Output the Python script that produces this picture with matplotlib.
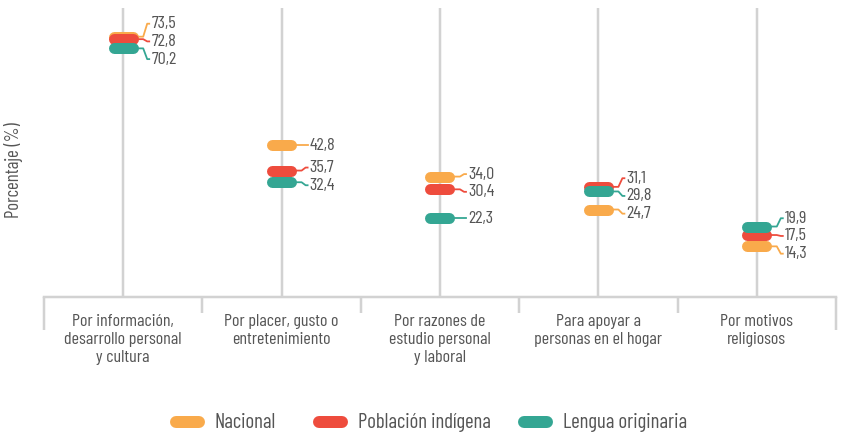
import matplotlib
matplotlib.use("Agg")
import matplotlib.pyplot as plt
from matplotlib.lines import Line2D
import matplotlib.transforms as mtransforms

plt.rcParams["font.family"] = ["Barlow Condensed", "Roboto Condensed", "DejaVu Sans"]

# ========= 数据 =========
categorias = [
    "Por información,\ndesarrollo personal\ny cultura",
    "Por placer, gusto o\nentretenimiento",
    "Por razones de\nestudio personal\ny laboral",
    "Para apoyar a\npersonas en el hogar",
    "Por motivos\nreligiosos",
]
series = ["Nacional", "Población indígena", "Lengua originaria"]
nacional = [73.5, 42.8, 34.0, 24.7, 14.3]
indigena = [72.8, 35.7, 30.4, 31.1, 17.5]
lengua = [70.2, 32.4, 22.3, 29.8, 19.9]
valores = [nacional, indigena, lengua]
colores = ["#F9AA4B", "#EE4C3D", "#34A693"]

GRIS = "#d2d2d2"
TEXTO = "#555555"

# ========= 画布 =========
W, H = 843, 434
fig = plt.figure(figsize=(W / 100, H / 100), dpi=100)
ax_l, ax_r, ax_b, ax_t = 44, 836, 297, 8
ax = fig.add_axes([ax_l / W, 1 - ax_b / H, (ax_r - ax_l) / W, (ax_b - ax_t) / H])

n = len(categorias)
YMAX = 81.6
ax.set_xlim(-0.5, n - 0.5)
ax.set_ylim(0, YMAX)
ax.axis("off")

px_x = n / (ax_r - ax_l)            # data units per pixel (x)
pt = 72 / 100                       # points per pixel

# vertical guide lines + baseline
for i in range(n):
    ax.plot([i, i], [0, YMAX], color=GRIS, lw=2.5 * pt, zorder=1, solid_capstyle="butt")
ax.plot([-0.5, n - 0.5], [0, 0], color=GRIS, lw=2.5 * pt, zorder=1, clip_on=False)

# separators under the baseline
trans = mtransforms.blended_transform_factory(ax.transData, ax.transAxes)
ah = ax_b - ax_t
for k in range(n + 1):
    largo = 33 if k in (0, n) else 16
    ax.plot([k - 0.5, k - 0.5], [0, -largo / ah], color=GRIS, lw=2.5 * pt,
            transform=trans, clip_on=False, solid_capstyle="butt")

# category labels
for i, cat in enumerate(categorias):
    ax.text(i, -17 / ah, cat, transform=trans, ha="center", va="top",
            fontsize=13, color=TEXTO, linespacing=1.25)


# ========= 标签避让 =========
def colocar(vals, gap, tope):
    orden = sorted(range(len(vals)), key=lambda j: vals[j])
    grupos = [[j] for j in orden]
    cambiado = True
    while cambiado:
        cambiado = False
        pos = []
        for g in grupos:
            m = sum(vals[j] for j in g) / len(g)
            base = m - gap * (len(g) - 1) / 2
            top = base + gap * (len(g) - 1)
            if top > tope:
                base -= top - tope
            pos.append(base)
        for a in range(len(grupos) - 1):
            if pos[a] + gap * (len(grupos[a]) - 1) + gap > pos[a + 1]:
                grupos[a] = grupos[a] + grupos[a + 1]
                del grupos[a + 1]
                cambiado = True
                break
    res = {}
    for g, b in zip(grupos, pos):
        for k, j in enumerate(g):
            res[j] = b + gap * k
    return [res[j] for j in range(len(vals))]


half = 15  # half pill width in px
for i in range(n):
    vals = [s[i] for s in valores]
    ys = colocar(vals, 5.0, YMAX - 3.6)
    for s, (v, yl, c) in enumerate(zip(vals, ys, colores)):
        # pill
        ax.plot([i - (half - 5.5) * px_x, i + (half - 5.5) * px_x], [v, v], color=c,
                lw=11 * pt, solid_capstyle="round", zorder=3 + s)
        # leader
        x0 = i + half * px_x
        ax.plot([x0, x0 + 5 * px_x, x0 + 9 * px_x, x0 + 11 * px_x], [v, v, yl, yl],
                color=c, lw=1.8 * pt, zorder=2)
        ax.text(x0 + 13 * px_x, yl, f"{v:.1f}".replace(".", ","), ha="left", va="center",
                fontsize=13, color=TEXTO)

fig.text(14 / W, 1 - 170 / H, "Porcentaje (%)", rotation=90, ha="center", va="center",
         fontsize=13.5, color=TEXTO)

# ========= 图例 (manual) =========
ley_x = [170, 313, 518]   # left edge of each legend pill, px
ley_y = 1 - 422 / H
for xl, nombre, c in zip(ley_x, series, colores):
    fig.add_artist(Line2D([(xl + 6) / W, (xl + 29) / W], [ley_y, ley_y], color=c,
                          lw=12 * pt, solid_capstyle="round", transform=fig.transFigure))
    fig.text((xl + 45) / W, ley_y, nombre, ha="left", va="center", fontsize=15, color=TEXTO)

fig.savefig("out.png", dpi=100)
